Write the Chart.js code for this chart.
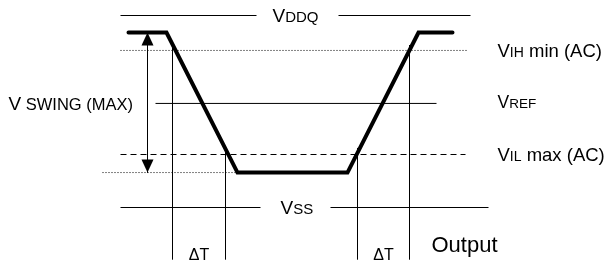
<!DOCTYPE html>
<html><head><meta charset="utf-8">
<script src="https://cdn.jsdelivr.net/npm/chart.js@4"></script>
<style>html,body{margin:0;padding:0;background:#fff}canvas{display:block}</style>
</head><body>
<canvas id="c" width="609" height="264"></canvas>
<script>
// ---- data (normalized voltage: VSS = 0, VDDQ = 1; time in arbitrary units) ----
const levelNames  = ['VDDQ', 'VIH min (AC)', 'VREF', 'VIL max (AC)', 'VSS'];
const levelValues = [1.0, 0.818, 0.542, 0.276, 0.0];
// output waveform
const waveTimes  = [128, 166, 237, 347, 418, 452];
const waveValues = [0.911, 0.911, 0.182, 0.182, 0.911, 0.911];
// timing markers (ΔT boundaries)
const markerTimes     = [172, 225, 357, 409];
const markerTopValues = [0.846, 0.31, 0.31, 0.846];
const markerBottomValue = -0.27;
// V swing arrow
const swingTime   = 147;
const swingValues = [0.911, 0.182];
// level line extents (time)
const vddqSpans  = [[120, 256], [338, 470]];
const vihSpan    = [120, 468];
const vrefSpan   = [155, 436];
const vilSpan    = [120, 465];
const lowDotSpan = [102, 237];
const vssSpans   = [[120, 260], [330, 488]];
// label texts
const deltaLabel  = 'ΔT';
const outputLabel = 'Output';
const deltaValue  = -0.273;
const outputValue = -0.232;

// ---- build datasets ----
function spansToPoints(spans, v) {
  const pts = [];
  spans.forEach((s, i) => {
    if (i > 0) pts.push({x: (spans[i-1][1] + s[0]) / 2, y: null});
    pts.push({x: s[0], y: v}, {x: s[1], y: v});
  });
  return pts;
}
const base = {showLine: true, pointRadius: 0, borderColor: '#000', tension: 0, spanGaps: false, fill: false};
const datasets = [
  {...base, label: 'VDDQ', data: spansToPoints(vddqSpans, levelValues[0]), borderWidth: 1},
  {...base, label: 'VIH', data: spansToPoints([vihSpan], levelValues[1]), borderWidth: 1, borderDash: [1, 2]},
  {...base, label: 'VREF', data: spansToPoints([vrefSpan], levelValues[2]), borderWidth: 1},
  {...base, label: 'VIL', data: spansToPoints([vilSpan], levelValues[3]), borderWidth: 1, borderDash: [6, 4]},
  {...base, label: 'VSS', data: spansToPoints(vssSpans, levelValues[4]), borderWidth: 1},
  {...base, label: 'low', data: spansToPoints([lowDotSpan], waveValues[2]), borderWidth: 1, borderDash: [1, 2]},
  {...base, label: 'swing', data: [{x: swingTime, y: swingValues[0]}, {x: swingTime, y: swingValues[1]}], borderWidth: 1},
];
markerTimes.forEach((t, i) => {
  datasets.push({...base, label: 'm' + i, data: [{x: t, y: markerTopValues[i]}, {x: t, y: markerBottomValue}], borderWidth: 1});
});
datasets.push({...base, label: 'Output', data: waveTimes.map((t, i) => ({x: t, y: waveValues[i]})),
  borderWidth: 4, borderCapStyle: 'round', borderJoinStyle: 'miter'});

const FONT = '"Liberation Sans", Arial, sans-serif';
function drawParts(ctx, parts, x, yMid) {
  const main = Math.max(...parts.map(p => p[1]));
  const bl = yMid + main * 0.36;
  let cx = x;
  ctx.textAlign = 'left';
  ctx.textBaseline = 'alphabetic';
  for (const [t, s] of parts) {
    ctx.font = s + 'px ' + FONT;
    ctx.fillText(t, cx, bl);
    cx += ctx.measureText(t).width;
  }
}

const annot = {
  id: 'annot',
  afterDatasetsDraw(chart) {
    const {ctx, scales: {x, y}} = chart;
    ctx.save();
    ctx.fillStyle = '#000';
    // arrowheads
    const ax = x.getPixelForValue(swingTime);
    const top = y.getPixelForValue(swingValues[0]);
    const bot = y.getPixelForValue(swingValues[1]);
    ctx.beginPath();
    ctx.moveTo(ax, top); ctx.lineTo(ax - 6, top + 13); ctx.lineTo(ax + 6, top + 13); ctx.closePath(); ctx.fill();
    ctx.beginPath();
    ctx.moveTo(ax, bot); ctx.lineTo(ax - 6, bot - 13); ctx.lineTo(ax + 6, bot - 13); ctx.closePath(); ctx.fill();
    // level labels
    const L = 19, S = 15;
    drawParts(ctx, [['V', L], ['DDQ', S]], x.getPixelForValue(272), y.getPixelForValue(levelValues[0]));
    drawParts(ctx, [['V', 18.5], ['IH', 14], [' min (AC)', 18.5]], x.getPixelForValue(497), y.getPixelForValue(levelValues[1]));
    drawParts(ctx, [['V', 17.5], ['REF', 13.5]], x.getPixelForValue(497), y.getPixelForValue(levelValues[2]) - 2);
    drawParts(ctx, [['V', 18.5], ['IL', 14], [' max (AC)', 18.5]], x.getPixelForValue(497), y.getPixelForValue(levelValues[3]));
    drawParts(ctx, [['V', L], ['SS', S]], x.getPixelForValue(280), y.getPixelForValue(levelValues[4]));
    drawParts(ctx, [['V', L], [' SWING (MAX)', 16.5]], x.getPixelForValue(8), y.getPixelForValue(levelValues[2]));
    // ΔT labels
    ctx.font = '16px ' + FONT;
    ctx.textAlign = 'center';
    ctx.textBaseline = 'alphabetic';
    const dy = y.getPixelForValue(deltaValue);
    ctx.fillText(deltaLabel, x.getPixelForValue((markerTimes[0] + markerTimes[1]) / 2), dy);
    ctx.fillText(deltaLabel, x.getPixelForValue((markerTimes[2] + markerTimes[3]) / 2), dy);
    ctx.font = '22px ' + FONT;
    ctx.textAlign = 'left';
    ctx.fillText(outputLabel, x.getPixelForValue(431), y.getPixelForValue(outputValue));
    ctx.restore();
  }
};

new Chart(document.getElementById('c'), {
  type: 'scatter',
  data: {datasets},
  options: {
    responsive: false,
    animation: false,
    devicePixelRatio: 1,
    layout: {padding: 0},
    plugins: {legend: {display: false}, tooltip: {enabled: false}},
    scales: {
      x: {type: 'linear', display: false, min: -0.5, max: 608.5},
      y: {type: 'linear', display: false, min: (207.5 - 264) / 192, max: 207.5 / 192}
    }
  },
  plugins: [annot]
});
</script>
</body></html>
